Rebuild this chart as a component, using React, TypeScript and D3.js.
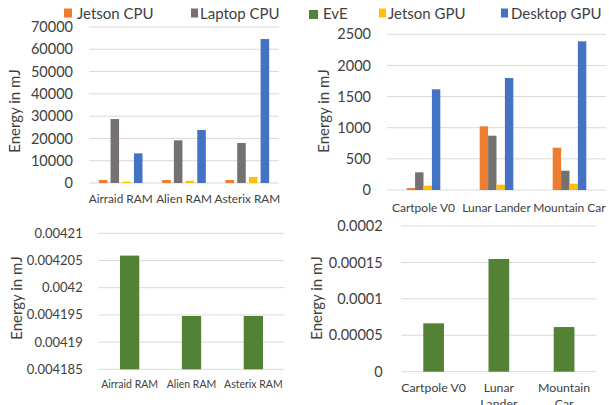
import React from 'react';
import * as d3 from 'd3';

// ---------- data ----------
const legendSeries = ['Jetson CPU', 'Laptop CPU', 'EvE', 'Jetson GPU', 'Desktop GPU'];
const topSeries = ['Jetson CPU', 'Laptop CPU', 'Jetson GPU', 'Desktop GPU'];

const atariGames = ['Airraid RAM', 'Alien RAM', 'Asterix RAM'];
const gymEnvs = ['Cartpole V0', 'Lunar Lander', 'Mountain Car'];
const gymEnvLines = [['Cartpole V0'], ['Lunar', 'Lander'], ['Mountain', 'Car']];

const atariJetsonCPU = [1350, 1350, 1350];
const atariLaptopCPU = [28700, 19150, 17950];
const atariJetsonGPU = [600, 1000, 2700];
const atariDesktopGPU = [13300, 23800, 64600];

const gymJetsonCPU = [32, 1022, 679];
const gymLaptopCPU = [284, 872, 310];
const gymJetsonGPU = [70, 85, 101];
const gymDesktopGPU = [1617, 1798, 2387];

const atariEvE = [0.0042059, 0.0041948, 0.0041948];
const gymEvE = [0.0000664, 0.0001547, 0.0000613];

const atariTicks = [0, 10000, 20000, 30000, 40000, 50000, 60000, 70000];
const gymTicks = [0, 500, 1000, 1500, 2000, 2500];
const atariEvETicks = [0.004185, 0.00419, 0.004195, 0.0042, 0.004205, 0.00421];
const atariEvETickLabels = ['0.004185', '0.00419', '0.004195', '0.0042', '0.004205', '0.00421'];
const gymEvETicks = [0, 0.00005, 0.0001, 0.00015, 0.0002];
const gymEvETickLabels = ['0', '0.00005', '0.0001', '0.00015', '0.0002'];

const COLORS: Record<string, string> = {
  'Jetson CPU': '#ED7D31',
  'Laptop CPU': '#767171',
  'EvE': '#548235',
  'Jetson GPU': '#FFC000',
  'Desktop GPU': '#4472C4',
};

const FONT = 'Lato, Carlito, Calibri, sans-serif';
const TEXT = '#404040';
const GRID = '#D9D9D9';

type PanelProps = {
  left: number; right: number; top: number; bottom: number;
  domain: [number, number];
  ticks: number[]; tickLabels: string[]; tickSize: number; tickRight: number;
  categories: string[]; labelLines: string[][]; labelSize: number; labelBaseline: number; lineHeight: number;
  series: { name: string; values: number[] }[];
  clusterWidth: number; innerPad: number; outerPad: number;
  titleX: number; titleY: number; titleSize: number;
};

function Panel(p: PanelProps) {
  const x0 = d3.scaleBand<string>().domain(p.categories).range([p.left, p.right]).paddingInner(0).paddingOuter(0);
  const x1 = d3.scaleBand<string>().domain(p.series.map(s => s.name))
    .range([-p.clusterWidth / 2, p.clusterWidth / 2]).paddingInner(p.innerPad).paddingOuter(p.outerPad);
  const y = d3.scaleLinear().domain(p.domain).range([p.bottom, p.top]);
  return (
    <g>
      {p.ticks.map((t, i) => (
        <g key={'t' + i}>
          <line x1={p.left} x2={p.right} y1={y(t)} y2={y(t)} stroke={GRID} strokeWidth={1} />
          <text x={p.tickRight} y={y(t)} dy="0.35em" textAnchor="end" fontSize={p.tickSize} fill={TEXT} fontFamily={FONT}>{p.tickLabels[i]}</text>
        </g>
      ))}
      {p.categories.map((c, ci) => {
        const cx = (x0(c) as number) + x0.bandwidth() / 2;
        return (
          <g key={'c' + ci}>
            {p.series.map((s, si) => {
              const v = s.values[ci];
              const bx = cx + (x1(s.name) as number);
              return (
                <rect key={'b' + si} x={bx} width={x1.bandwidth()} y={y(v)} height={Math.max(0, y(p.domain[0]) - y(v))} fill={COLORS[s.name]} />
              );
            })}
            {p.labelLines[ci].map((ln, li) => (
              <text key={'l' + li} x={cx} y={p.labelBaseline + li * p.lineHeight} textAnchor="middle" fontSize={p.labelSize} fill={TEXT} fontFamily={FONT}>{ln}</text>
            ))}
          </g>
        );
      })}
      <text transform={`translate(${p.titleX},${p.titleY}) rotate(-90)`} textAnchor="middle" dy="0.35em" fontSize={p.titleSize} fill={TEXT} fontFamily={FONT}>Energy in mJ</text>
    </g>
  );
}

const legendLayout = [
  { sx: 64, sw: 8, tx: 77 },
  { sx: 191, sw: 7, tx: 200 },
  { sx: 309, sw: 9, tx: 323 },
  { sx: 379, sw: 7, tx: 388 },
  { sx: 501, sw: 7, tx: 511 },
];

export default function App() {
  return (
    <svg width={609} height={405} style={{ position: 'absolute', left: 0, top: 0, background: '#fff' }}>
      <rect width={609} height={405} fill="#fff" />
      {legendSeries.map((s, i) => (
        <g key={s}>
          <rect x={legendLayout[i].sx} y={s === 'EvE' ? 10 : 8.5} width={legendLayout[i].sw} height={9} fill={COLORS[s]} />
          <text x={legendLayout[i].tx} y={s === 'EvE' ? 19 : 18.5} fontSize={15} fill={TEXT} fontFamily={FONT}>{s}</text>
        </g>
      ))}
      <Panel
        left={89} right={279} top={27} bottom={183} domain={[0, 70000]}
        ticks={atariTicks} tickLabels={atariTicks.map(String)} tickSize={14.5} tickRight={73}
        categories={atariGames} labelLines={atariGames.map(g => [g])} labelSize={11.8} labelBaseline={202.5} lineHeight={15}
        series={[
          { name: topSeries[0], values: atariJetsonCPU },
          { name: topSeries[1], values: atariLaptopCPU },
          { name: topSeries[2], values: atariJetsonGPU },
          { name: topSeries[3], values: atariDesktopGPU },
        ]}
        clusterWidth={46.8} innerPad={0.27} outerPad={0.135}
        titleX={15} titleY={111} titleSize={15}
      />
      <Panel
        left={387} right={606} top={34.3} bottom={190} domain={[0, 2500]}
        ticks={gymTicks} tickLabels={gymTicks.map(String)} tickSize={14.5} tickRight={371}
        categories={gymEnvs} labelLines={gymEnvs.map(g => [g])} labelSize={12} labelBaseline={211.5} lineHeight={15}
        series={[
          { name: topSeries[0], values: gymJetsonCPU },
          { name: topSeries[1], values: gymLaptopCPU },
          { name: topSeries[2], values: gymJetsonGPU },
          { name: topSeries[3], values: gymDesktopGPU },
        ]}
        clusterWidth={33.6} innerPad={0} outerPad={0}
        titleX={324} titleY={111} titleSize={15}
      />
      <Panel
        left={98.7} right={284.3} top={233.3} bottom={369.3} domain={[0.004185, 0.00421]}
        ticks={atariEvETicks} tickLabels={atariEvETickLabels} tickSize={13} tickRight={82.7}
        categories={atariGames} labelLines={atariGames.map(g => [g])} labelSize={10.5} labelBaseline={388.3} lineHeight={15}
        series={[{ name: 'EvE', values: atariEvE }]}
        clusterWidth={19.3} innerPad={0} outerPad={0}
        titleX={16.5} titleY={298} titleSize={15}
      />
      <Panel
        left={401} right={596.7} top={226} bottom={371.7} domain={[0, 0.0002]}
        ticks={gymEvETicks} tickLabels={gymEvETickLabels} tickSize={14.5} tickRight={382.7}
        categories={gymEnvs} labelLines={gymEnvLines} labelSize={12.3} labelBaseline={391.7} lineHeight={16}
        series={[{ name: 'EvE', values: gymEvE }]}
        clusterWidth={20.7} innerPad={0} outerPad={0}
        titleX={316.5} titleY={298} titleSize={15}
      />
    </svg>
  );
}
